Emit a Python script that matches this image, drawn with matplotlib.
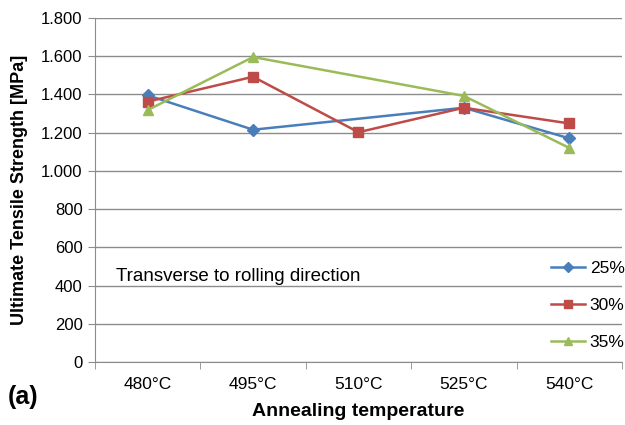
import numpy as np
import matplotlib.pyplot as plt
from matplotlib.ticker import FuncFormatter, FixedLocator

plt.rcParams['font.family'] = ['Liberation Sans', 'DejaVu Sans']

# Dados
temperaturas = ['480°C', '495°C', '510°C', '525°C', '540°C']
uts_25 = [1395, 1215, np.nan, 1330, 1170]
uts_30 = [1362, 1492, 1202, 1330, 1248]
uts_35 = [1318, 1595, np.nan, 1392, 1120]

fig = plt.figure(figsize=(6.25, 4.25), dpi=100)
ax = fig.add_axes([0.152, 0.148, 0.843, 0.81])

x = np.arange(len(temperaturas))

def desenhar(vals, cor, marcador, ms, rotulo):
    v = np.array(vals, dtype=float)
    ok = ~np.isnan(v)
    ax.plot(x[ok], v[ok], color=cor, marker=marcador, markersize=ms, lw=1.8,
            label=rotulo, zorder=3)

desenhar(uts_25, '#4a7ebb', 'D', 6, '25%')
desenhar(uts_30, '#be4b48', 's', 7, '30%')
desenhar(uts_35, '#9bbb59', '^', 7.5, '35%')

ax.set_xlim(-0.5, len(temperaturas) - 0.5)
ax.set_ylim(0, 1800)
ax.set_yticks(np.arange(0, 1801, 200))
ax.yaxis.set_major_formatter(FuncFormatter(lambda v, p: f'{int(v):,}'.replace(',', '.')))
ax.yaxis.grid(True, color='#8c8c8c', lw=1)
ax.set_axisbelow(True)

ax.set_xticks(x)
ax.set_xticklabels(temperaturas)
ax.xaxis.set_minor_locator(FixedLocator(np.arange(-0.5, len(temperaturas), 1)))
ax.tick_params(axis='x', which='major', length=0, pad=11, labelsize=12.5)
ax.tick_params(axis='x', which='minor', length=5, color='#8c8c8c')
ax.tick_params(axis='y', length=5, color='#8c8c8c', labelsize=12, pad=4)

for s in ['top', 'right']:
    ax.spines[s].set_visible(False)
for s in ['left', 'bottom']:
    ax.spines[s].set_color('#8c8c8c')

ax.set_ylabel('Ultimate Tensile Strength [MPa]', fontsize=13, fontweight='bold', labelpad=9)
ax.set_xlabel('Annealing temperature', fontsize=14, fontweight='bold', labelpad=8)

ax.text(0.04, 0.25, 'Transverse to rolling direction', transform=ax.transAxes,
        fontsize=13.5, va='center', ha='left')

ax.legend(loc='lower right', bbox_to_anchor=(1.035, -0.01), frameon=False,
          fontsize=12.5, labelspacing=1.25, handlelength=2.0, handletextpad=0.25,
          markerscale=0.8)

fig.text(0.012, 0.05, '(a)', fontsize=18, fontweight='bold')

fig.savefig('out.png', dpi=100)
